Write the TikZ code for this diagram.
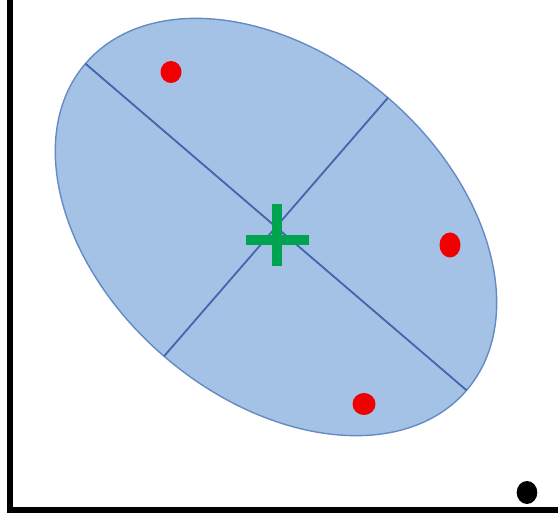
\documentclass[tikz,border=0pt]{standalone}
\usetikzlibrary{calc}
\definecolor{efill}{RGB}{164,193,230}
\definecolor{edraw}{RGB}{100,140,195}
\definecolor{eaxis}{RGB}{68,100,172}
\definecolor{dotred}{RGB}{240,0,0}
\definecolor{crossgreen}{RGB}{0,163,80}
\tikzset{
  frameline/.style={line width=6pt, black},
  axisline/.style={line width=1.8pt, eaxis},
  reddot/.style={fill=dotred},
  crossbar/.style={line width=10pt, crossgreen}
}
\begin{document}
\begin{tikzpicture}[x=1pt,y=1pt]
\useasboundingbox (0,0) rectangle (558,528);
\fill[white] (0,0) rectangle (558,528);
% ellipse
\coordinate (c) at (276,301);
\filldraw[fill=efill, draw=edraw, line width=1.4pt, rotate around={-40.6:(c)}] (c) ellipse [x radius=251, y radius=171];
% axes
\coordinate (ma1) at ($(c)+(139.4:251)$);
\coordinate (ma2) at ($(c)+(-40.6:251)$);
\coordinate (mi1) at ($(c)+(49.1:171)$);
\coordinate (mi2) at ($(c)+(229.1:171)$);
\draw[axisline] (ma1) -- (ma2);
\draw[axisline] (mi1) -- (mi2);
% red points
\fill[reddot] (171,456) ellipse [x radius=10.5, y radius=11];
\fill[reddot] (450,283) ellipse [x radius=10.5, y radius=12.5];
\fill[reddot] (364,124) ellipse [x radius=11.5, y radius=11];
% green cross
\coordinate (g) at (277,288);
\draw[crossbar] ($(g)+(-31,0)$) -- ($(g)+(32,0)$);
\draw[crossbar] ($(g)+(0,-26)$) -- ($(g)+(0,36)$);
% black point
\fill[black] (527,35.5) ellipse [x radius=10.3, y radius=11.5];
% frame
\coordinate (f1) at (10,528);
\coordinate (f2) at (10,18);
\coordinate (f3) at (558,18);
\draw[frameline] (f1) -- (f2);
\draw[frameline] (7,18) -- (f3);
\end{tikzpicture}
\end{document}
